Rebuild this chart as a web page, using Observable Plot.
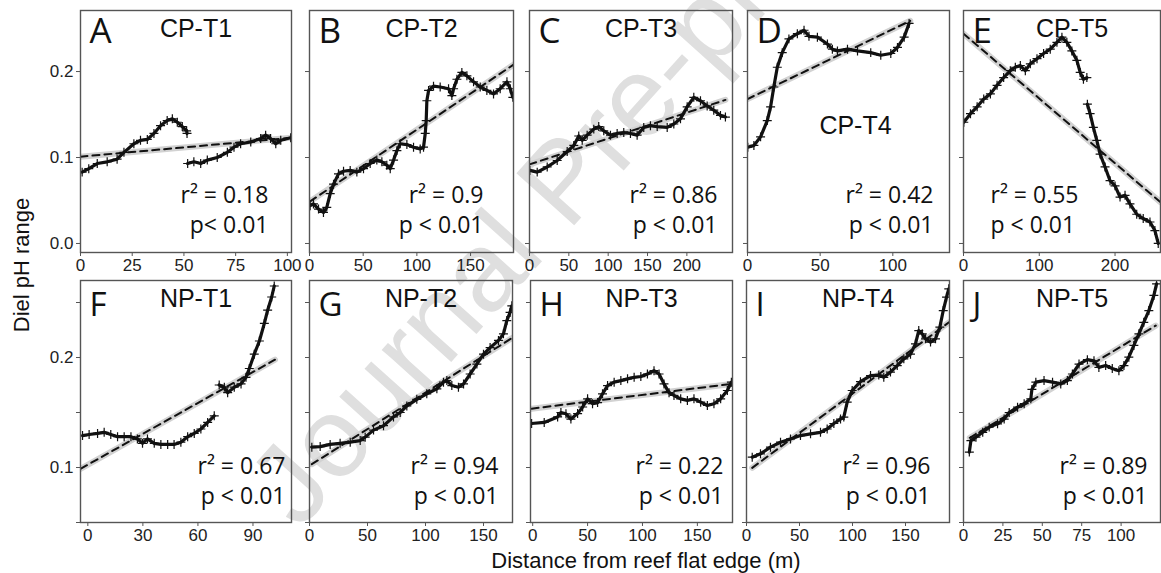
<!DOCTYPE html>
<html><head><meta charset="utf-8">
<script src="https://cdn.jsdelivr.net/npm/d3@7"></script>
<script src="https://cdn.jsdelivr.net/npm/@observablehq/plot@0.6"></script>
<style>
html,body{margin:0;padding:0;background:#fff;overflow:hidden}
#wrap{position:relative;width:1161px;height:573px;overflow:hidden;font-family:"Liberation Sans",Arial,sans-serif;color:#111}
.panel{position:absolute}
#wm{position:absolute;left:0;top:0}
#ylab{position:absolute;left:22px;top:265px;transform:translate(-50%,-50%) rotate(-90deg);font-size:22px;line-height:22px;white-space:nowrap}
#xlab{position:absolute;left:646px;top:550px;transform:translateX(-50%);font-size:22px;line-height:22px;white-space:nowrap}
</style></head><body><div id="wrap"></div><script>
// ---------- labels ----------
const panelLetters = ["A","B","C","D","E","F","G","H","I","J"];
const panelTitles = ["CP-T1","CP-T2","CP-T3","CP-T4","CP-T5","NP-T1","NP-T2","NP-T3","NP-T4","NP-T5"];
const r2Labels = ["r² = 0.18","r² = 0.9","r² = 0.86","r² = 0.42","r² = 0.55","r² = 0.67","r² = 0.94","r² = 0.22","r² = 0.96","r² = 0.89"];
const pLabels = ["p< 0.01","p < 0.01","p < 0.01","p < 0.01","p < 0.01","p < 0.01","p < 0.01","p < 0.01","p < 0.01","p < 0.01"];
const yLabel = "Diel pH range";
const xLabel = "Distance from reef flat edge (m)";
const watermark = "Journal Pre-proof";

// ---------- axes ----------
const xDomains = [[0,102],[0,190],[0,258],[0,139],[0,260],[-4,111],[0,175],[-2,182],[0,191.5],[0,125]];
const xTicks = [[0,25,50,75,100],[0,50,100,150],[0,50,100,150,200],[0,50,100],[0,100,200],
                [0,30,60,90],[0,50,100,150],[0,50,100,150],[0,50,100,150],[0,25,50,75,100]];
const topYDomain = [-0.0105, 0.271];
const bottomYDomain = [0.05, 0.27];
const topYTicks = [0, 0.1, 0.2];
const bottomYTicks = [0.05, 0.1, 0.15, 0.2, 0.25];

// ---------- series (null = gap) ----------
const aX = [0.8,4,8.1,12.9,17.7,21,25.8,29,32.3,35.5,38.7,41.9,44.4,46.8,49.2,51.3,51.5,null,51.8,54.8,58.1,61.3,66.1,71,74.2,77.4,82.3,87.1,89.5,91.9,94.4,96.8,101.6];
const aY = [0.083,0.087,0.093,0.095,0.098,0.106,0.116,0.120,0.121,0.128,0.137,0.143,0.145,0.141,0.136,0.131,0.128,null,0.093,0.095,0.093,0.097,0.100,0.106,0.112,0.116,0.118,0.122,0.126,0.122,0.116,0.120,0.123];
const bX = [0.6,3.7,8.4,13,16.1,19.3,22.4,27,31.7,37.9,44.1,50.3,56.5,62.7,67.4,72,75.2,78.3,81.4,84.5,90.7,96.9,103.1,106.2,107.8,108.7,109.3,110.9,115.5,121.7,129.5,132.6,134.2,137.3,141.9,146.6,152.8,159,165.2,171.4,177.6,183.9,187,189.4];
const bY = [0.044,0.046,0.040,0.036,0.042,0.058,0.069,0.081,0.084,0.085,0.083,0.087,0.093,0.097,0.095,0.091,0.087,0.097,0.108,0.116,0.115,0.112,0.110,0.112,0.128,0.143,0.166,0.178,0.183,0.182,0.180,0.172,0.180,0.191,0.199,0.195,0.188,0.182,0.178,0.174,0.180,0.188,0.180,0.170];
const cX = [0.4,9.8,22.5,35.2,47.9,56.3,62.6,67,73.3,81.7,88,94.4,102.9,111.4,119.8,128.3,136.8,145.2,153.7,162.3,175,183.4,191.9,200.4,208.8,217.3,225.8,234.2,242.7,249];
const cY = [0.085,0.083,0.089,0.0965,0.107,0.114,0.125,0.120,0.126,0.133,0.136,0.131,0.126,0.128,0.129,0.128,0.126,0.135,0.137,0.136,0.135,0.139,0.145,0.159,0.170,0.166,0.160,0.155,0.149,0.147];
const dX = [0.2,4.4,9,13.6,15.9,18.1,20.5,23.9,28.5,34.3,38.9,42.3,48.1,55,58.4,61.9,68.8,75.7,84.8,91.7,98.6,103.2,107.8,111.2];
const dY = [0.112,0.114,0.124,0.143,0.159,0.182,0.205,0.222,0.238,0.244,0.248,0.241,0.240,0.232,0.226,0.224,0.226,0.224,0.222,0.219,0.221,0.228,0.240,0.256];
const eX = [0.4,9.2,18,26.7,35.5,44.3,53,61.8,68.4,75,81.6,88.2,97,105.7,114.5,123.3,129.9,136.4,143,149.6,154,158.3,162.8,null,163.5,167.1,171.4,175.9,180.3,186.8,193.4,200,206.6,213.2,219.7,228.6,237.2,246.1,252.6,257];
const eY = [0.141,0.151,0.159,0.168,0.174,0.184,0.193,0.201,0.205,0.207,0.201,0.209,0.215,0.221,0.226,0.234,0.240,0.234,0.224,0.213,0.199,0.191,0.193,null,0.162,0.151,0.135,0.120,0.104,0.089,0.073,0.067,0.054,0.056,0.046,0.034,0.029,0.025,0.015,0.000];
const fX = [-2.9,0.7,5.3,8.9,12.5,16.2,19.8,23.5,27,29.8,32.5,36.2,39.8,43.5,47,50.7,54.4,58,61.6,65.3,68.9,null,71.6,74.4,76.2,79.8,83.5,86.2,88,90.7,93.5,96.2,98,100.2,101.6];
const fY = [0.129,0.130,0.131,0.132,0.130,0.128,0.128,0.128,0.126,0.122,0.126,0.122,0.121,0.121,0.121,0.123,0.128,0.131,0.135,0.141,0.147,null,0.175,0.173,0.168,0.173,0.176,0.182,0.190,0.203,0.215,0.231,0.243,0.255,0.265];
const gX = [2,9.2,17.8,26.4,35.1,43.7,48,55.2,63.8,72.4,78.2,83.9,92.5,101.1,109.8,115.5,118.4,122.7,128.4,132.8,138.5,144.3,150,155.7,162.9,167.2,170.1,172.9,174.4];
const gY = [0.1185,0.119,0.121,0.122,0.123,0.1245,0.1276,0.134,0.138,0.146,0.150,0.156,0.162,0.167,0.1715,0.1776,0.179,0.1745,0.173,0.176,0.185,0.194,0.203,0.209,0.2155,0.2215,0.2336,0.241,0.247];
const hX = [-1,10.5,22.7,25.7,30.3,34.8,40.9,45.5,50,54.5,59.1,63.6,68.2,74.2,80.3,86.4,92.4,98.5,104.5,110.5,115.1,119.6,124.2,128.7,134.8,140.9,146.9,153,159.1,165.1,171.2,177.3,181];
const hY = [0.140,0.141,0.146,0.150,0.1488,0.144,0.149,0.155,0.1624,0.158,0.159,0.167,0.1745,0.1776,0.179,0.1806,0.182,0.1827,0.185,0.188,0.185,0.176,0.168,0.1655,0.1624,0.161,0.1624,0.1594,0.1564,0.158,0.1624,0.170,0.1776];
const iX = [5.4,13.2,22.6,32.1,41.5,50.9,60.4,69.8,76.1,82.4,88.7,91.8,95,99.7,107.5,117,124.8,129.5,135.8,142.2,148.4,154.7,159.4,162.5,165.8,168.9,173.6,178.3,182.4,185.6,188.7,190.8];
const iY = [0.1094,0.1124,0.1185,0.123,0.126,0.129,0.1306,0.132,0.135,0.140,0.144,0.1458,0.1594,0.170,0.178,0.1836,0.184,0.182,0.1867,0.1927,0.1988,0.203,0.2124,0.2245,0.2215,0.217,0.214,0.217,0.2276,0.2427,0.2548,0.2624];
const jX = [3.7,4.7,7.9,12.2,16.3,21.6,25.8,29,34.3,38.5,42.7,43.4,45.9,51.1,56.5,61.7,65.9,69.1,73.3,78.6,82.8,85.9,90.2,94.4,98.6,101.8,104.9,108.1,111.3,114.4,117.6,120.8,122.5];
const jY = [0.114,0.1245,0.1276,0.132,0.1367,0.1397,0.144,0.150,0.1548,0.158,0.1624,0.171,0.1776,0.179,0.1776,0.176,0.179,0.185,0.194,0.198,0.197,0.191,0.1927,0.190,0.188,0.1927,0.2003,0.211,0.2215,0.232,0.2427,0.2564,0.267];

// ---------- regression fits (end points) ----------
const fitX = [[0,102],[0.6,190],[0,249],[0,112],[0,260],[-3.8,102],[2,175],[-1,181],[5.4,191],[4,122]];
const fitY = [[0.101,0.123],[0.049,0.208],[0.092,0.167],[0.168,0.259],[0.244,0.048],[0.099,0.198],[0.103,0.218],[0.1535,0.176],[0.0997,0.232],[0.127,0.229]];

const seriesX = [aX,bX,cX,dX,eX,fX,gX,hX,iX,jX];
const seriesY = [aY,bY,cY,dY,eY,fY,gY,hY,iY,jY];

// ---------- layout ----------
const frames = [[80,291],[309,513],[529,732],[747,949],[963,1160],[80,291],[309,512],[530,732],[746,949],[963,1160]];
const rowTop = [10, 280];
const frameH = 242;
const statDx = [-23,-30,-15,-16,27,-6,-14,-9,-19,-13];

const wrap = document.getElementById("wrap");

// watermark (behind the panels)
const svgNS = "http://www.w3.org/2000/svg";
const wm = document.createElementNS(svgNS, "svg");
wm.setAttribute("id","wm"); wm.setAttribute("width",1161); wm.setAttribute("height",573);
const wt = document.createElementNS(svgNS, "text");
wt.setAttribute("x", 299); wt.setAttribute("y", 531);
wt.setAttribute("transform", "rotate(-48 299 531)");
wt.setAttribute("font-family", "Liberation Sans, Arial, sans-serif");
wt.setAttribute("font-size", 113);
wt.setAttribute("fill", "#dfdfdf");
wt.textContent = watermark;
wm.appendChild(wt);
wrap.appendChild(wm);

const fmt1 = d => (Math.abs(d*10 - Math.round(d*10)) < 1e-9 ? d.toFixed(1) : "");

for (let i = 0; i < 10; i++) {
  const top = i < 5;
  const fr = frames[i];
  const mL = 42, mR = 12, mT = 12, mB = 30;
  const w = fr[1] - fr[0] + mL + mR;
  const h = frameH + mT + mB;
  const data = seriesX[i].map((x, j) => ({x, y: seriesY[i][j]}));
  const fit = fitX[i].map((x, j) => ({x, y: fitY[i][j]}));
  const showY = (i === 0 || i === 5);
  const right = i !== 4;
  const titleMark = (i === 3)
    ? Plot.text([panelTitles[i]], {frameAnchor:"top", dx:7, dy:123, lineAnchor:"bottom", fontSize:25, fill:"#111"})
    : Plot.text([panelTitles[i]], {frameAnchor:"top", dx:10, dy:26, lineAnchor:"bottom", fontSize:25, fill:"#111"});
  const plot = Plot.plot({
    width: w, height: h,
    marginLeft: mL, marginRight: mR, marginTop: mT, marginBottom: mB,
    x: {domain: xDomains[i]},
    y: {domain: top ? topYDomain : bottomYDomain},
    style: {background: "transparent", overflow: "visible", fontFamily: "Liberation Sans, Arial, sans-serif"},
    marks: [
      Plot.line(fit, {x:"x", y:"y", stroke:"#d2d2d2", strokeWidth:6, clip:true}),
      Plot.line(data, {x:"x", y:"y", stroke:"#111", strokeWidth:3.2, clip:true}),
      Plot.dot(data, {x:"x", y:"y", symbol:"plus", r:3, stroke:"#111", strokeWidth:1.2, clip:true}),
      Plot.line(fit, {x:"x", y:"y", stroke:"#111", strokeWidth:2, strokeDasharray:"7,5", clip:true}),
      Plot.frame({stroke:"#555", strokeWidth:1.4}),
      Plot.axisX({ticks: xTicks[i], tickSize:4, tickPadding:2, fontSize:17, fill:"#222", stroke:"#555", label:null, tickFormat: d => String(d)}),
      Plot.axisY({ticks: top ? topYTicks : bottomYTicks, tickSize:4, tickPadding:3, fontSize:17, fill:"#222", stroke:"#555", label:null, tickFormat: showY ? fmt1 : () => ""}),
      Plot.text([panelLetters[i]], {frameAnchor:"top-left", dx:9, dy: top ? 32 : 35, lineAnchor:"bottom", textAnchor:"start", fontSize: top ? 35 : 33, fontFamily:"Open Sans", fill:"#111"}),
      titleMark,
      Plot.text([r2Labels[i]], {frameAnchor: right ? "bottom-right" : "bottom-left", dx: statDx[i], dy: top ? -50 : -49, lineAnchor:"bottom", textAnchor: right ? "end" : "start", fontSize:23, fontFamily:"Open Sans", fill:"#111"}),
      Plot.text([pLabels[i]], {frameAnchor: right ? "bottom-right" : "bottom-left", dx: statDx[i], dy: top ? -20 : -19, lineAnchor:"bottom", textAnchor: right ? "end" : "start", fontSize:23, fontFamily:"Open Sans", fill:"#111"})
    ]
  });
  plot.classList.add("panel");
  plot.style.left = (fr[0] - mL) + "px";
  plot.style.top = (rowTop[top ? 0 : 1] - mT) + "px";
  plot.style.maxWidth = "none";
  wrap.appendChild(plot);
}

const yl = document.createElement("div"); yl.id = "ylab"; yl.textContent = yLabel; wrap.appendChild(yl);
const xl = document.createElement("div"); xl.id = "xlab"; xl.textContent = xLabel; wrap.appendChild(xl);
</script></body></html>
